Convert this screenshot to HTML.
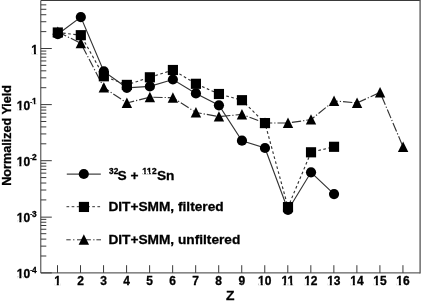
<!DOCTYPE html>
<html><head><meta charset="utf-8"><title>Normalized Yield vs Z</title>
<style>html,body{margin:0;padding:0;background:#fff}svg{display:block}</style></head>
<body>
<svg width="422" height="303" viewBox="0 0 422 303">
<rect width="422" height="303" fill="#fff"/>
<g stroke="#3a3a3a" stroke-width="1" fill="none">
<path d="M40.8,272.9 V0.5 H420.1"/>
<path d="M40.8,272.9 H420.1"/>
<path d="M420.1,0.0 V273.4" stroke="#555" stroke-width="1.3"/>
<line x1="57.50" y1="272.9" x2="57.50" y2="265.2"/>
<line x1="80.53" y1="272.9" x2="80.53" y2="265.2"/>
<line x1="103.56" y1="272.9" x2="103.56" y2="265.2"/>
<line x1="126.59" y1="272.9" x2="126.59" y2="265.2"/>
<line x1="149.62" y1="272.9" x2="149.62" y2="265.2"/>
<line x1="172.65" y1="272.9" x2="172.65" y2="265.2"/>
<line x1="195.68" y1="272.9" x2="195.68" y2="265.2"/>
<line x1="218.71" y1="272.9" x2="218.71" y2="265.2"/>
<line x1="241.74" y1="272.9" x2="241.74" y2="265.2"/>
<line x1="264.77" y1="272.9" x2="264.77" y2="265.2"/>
<line x1="287.80" y1="272.9" x2="287.80" y2="265.2"/>
<line x1="310.83" y1="272.9" x2="310.83" y2="265.2"/>
<line x1="333.86" y1="272.9" x2="333.86" y2="265.2"/>
<line x1="356.89" y1="272.9" x2="356.89" y2="265.2"/>
<line x1="379.92" y1="272.9" x2="379.92" y2="265.2"/>
<line x1="402.95" y1="272.9" x2="402.95" y2="265.2"/>
<line x1="40.8" y1="272.90" x2="51.8" y2="272.90"/>
<line x1="40.8" y1="256.01" x2="46.3" y2="256.01"/>
<line x1="40.8" y1="246.13" x2="46.3" y2="246.13"/>
<line x1="40.8" y1="239.12" x2="46.3" y2="239.12"/>
<line x1="40.8" y1="233.69" x2="46.3" y2="233.69"/>
<line x1="40.8" y1="229.25" x2="46.3" y2="229.25"/>
<line x1="40.8" y1="225.49" x2="46.3" y2="225.49"/>
<line x1="40.8" y1="222.24" x2="46.3" y2="222.24"/>
<line x1="40.8" y1="219.37" x2="46.3" y2="219.37"/>
<line x1="40.8" y1="217.15" x2="51.8" y2="217.15"/>
<line x1="40.8" y1="199.91" x2="46.3" y2="199.91"/>
<line x1="40.8" y1="190.03" x2="46.3" y2="190.03"/>
<line x1="40.8" y1="183.02" x2="46.3" y2="183.02"/>
<line x1="40.8" y1="177.59" x2="46.3" y2="177.59"/>
<line x1="40.8" y1="173.15" x2="46.3" y2="173.15"/>
<line x1="40.8" y1="169.39" x2="46.3" y2="169.39"/>
<line x1="40.8" y1="166.14" x2="46.3" y2="166.14"/>
<line x1="40.8" y1="163.27" x2="46.3" y2="163.27"/>
<line x1="40.8" y1="160.70" x2="51.8" y2="160.70"/>
<line x1="40.8" y1="143.81" x2="46.3" y2="143.81"/>
<line x1="40.8" y1="133.93" x2="46.3" y2="133.93"/>
<line x1="40.8" y1="126.92" x2="46.3" y2="126.92"/>
<line x1="40.8" y1="121.49" x2="46.3" y2="121.49"/>
<line x1="40.8" y1="117.05" x2="46.3" y2="117.05"/>
<line x1="40.8" y1="113.29" x2="46.3" y2="113.29"/>
<line x1="40.8" y1="110.04" x2="46.3" y2="110.04"/>
<line x1="40.8" y1="107.17" x2="46.3" y2="107.17"/>
<line x1="40.8" y1="104.60" x2="51.8" y2="104.60"/>
<line x1="40.8" y1="87.71" x2="46.3" y2="87.71"/>
<line x1="40.8" y1="77.83" x2="46.3" y2="77.83"/>
<line x1="40.8" y1="70.82" x2="46.3" y2="70.82"/>
<line x1="40.8" y1="65.39" x2="46.3" y2="65.39"/>
<line x1="40.8" y1="60.95" x2="46.3" y2="60.95"/>
<line x1="40.8" y1="57.19" x2="46.3" y2="57.19"/>
<line x1="40.8" y1="53.94" x2="46.3" y2="53.94"/>
<line x1="40.8" y1="51.07" x2="46.3" y2="51.07"/>
<line x1="40.8" y1="48.50" x2="51.8" y2="48.50"/>
<line x1="40.8" y1="31.61" x2="46.3" y2="31.61"/>
<line x1="40.8" y1="21.73" x2="46.3" y2="21.73"/>
<line x1="40.8" y1="14.72" x2="46.3" y2="14.72"/>
<line x1="40.8" y1="9.29" x2="46.3" y2="9.29"/>
<line x1="40.8" y1="4.85" x2="46.3" y2="4.85"/>
</g>
<polyline points="57.80,34.2 80.82,17.1 103.84,71.4 126.86,87.8 149.88,86.4 172.90,79.5 195.92,93.4 218.94,105.3 241.96,140.7 264.98,148.0 288.00,210.0 311.02,172.3 334.04,194.1" fill="none" stroke="#333" stroke-width="1.15"/>
<polyline points="57.80,32.5 80.82,35.2 103.84,76.3 126.86,84.9 149.88,77.3 172.90,70 195.92,83.8 218.94,94 241.96,100.2 264.98,123.1 288.00,207.1 311.02,152.3 334.04,146.8" fill="none" stroke="#333" stroke-width="1.15" stroke-dasharray="2.7,2.5"/>
<polyline points="57.80,32 80.82,43.2 103.84,87.6 126.86,103 149.88,97.2 172.90,97.7 195.92,112.5 218.94,116.6 241.96,114.4 264.98,123 288.00,123 311.02,119.6 334.04,100.9 357.06,102.9 380.08,92.4 403.10,147" fill="none" stroke="#333" stroke-width="1.15" stroke-dasharray="9.3,2,1.2,2"/>
<g fill="#000">
<polygon points="52.60,37.00 63.00,37.00 57.80,26.60"/>
<polygon points="75.62,48.20 86.02,48.20 80.82,37.80"/>
<polygon points="98.64,92.60 109.04,92.60 103.84,82.20"/>
<polygon points="121.66,108.00 132.06,108.00 126.86,97.60"/>
<polygon points="144.68,102.20 155.08,102.20 149.88,91.80"/>
<polygon points="167.70,102.70 178.10,102.70 172.90,92.30"/>
<polygon points="190.72,117.50 201.12,117.50 195.92,107.10"/>
<polygon points="213.74,121.60 224.14,121.60 218.94,111.20"/>
<polygon points="236.76,119.40 247.16,119.40 241.96,109.00"/>
<polygon points="259.78,128.00 270.18,128.00 264.98,117.60"/>
<polygon points="282.80,128.00 293.20,128.00 288.00,117.60"/>
<polygon points="305.82,124.60 316.22,124.60 311.02,114.20"/>
<polygon points="328.84,105.90 339.24,105.90 334.04,95.50"/>
<polygon points="351.86,107.90 362.26,107.90 357.06,97.50"/>
<polygon points="374.88,97.40 385.28,97.40 380.08,87.00"/>
<polygon points="397.90,152.00 408.30,152.00 403.10,141.60"/>
<rect x="52.72" y="27.42" width="10.16" height="10.16"/>
<rect x="75.74" y="30.12" width="10.16" height="10.16"/>
<rect x="98.76" y="71.22" width="10.16" height="10.16"/>
<rect x="121.78" y="79.82" width="10.16" height="10.16"/>
<rect x="144.80" y="72.22" width="10.16" height="10.16"/>
<rect x="167.82" y="64.92" width="10.16" height="10.16"/>
<rect x="190.84" y="78.72" width="10.16" height="10.16"/>
<rect x="213.86" y="88.92" width="10.16" height="10.16"/>
<rect x="236.88" y="95.12" width="10.16" height="10.16"/>
<rect x="259.90" y="118.02" width="10.16" height="10.16"/>
<rect x="282.92" y="202.02" width="10.16" height="10.16"/>
<rect x="305.94" y="147.22" width="10.16" height="10.16"/>
<rect x="328.96" y="141.72" width="10.16" height="10.16"/>
<circle cx="57.80" cy="34.20" r="5.1"/>
<circle cx="80.82" cy="17.10" r="5.1"/>
<circle cx="103.84" cy="71.40" r="5.1"/>
<circle cx="126.86" cy="87.80" r="5.1"/>
<circle cx="149.88" cy="86.40" r="5.1"/>
<circle cx="172.90" cy="79.50" r="5.1"/>
<circle cx="195.92" cy="93.40" r="5.1"/>
<circle cx="218.94" cy="105.30" r="5.1"/>
<circle cx="241.96" cy="140.70" r="5.1"/>
<circle cx="264.98" cy="148.00" r="5.1"/>
<circle cx="288.00" cy="210.00" r="5.1"/>
<circle cx="311.02" cy="172.30" r="5.1"/>
<circle cx="334.04" cy="194.10" r="5.1"/>
</g>
<line x1="66.8" y1="174.05" x2="100.8" y2="174.05" stroke="#444" stroke-width="1.15"/>
<line x1="66.5" y1="206.7" x2="100.5" y2="206.7" stroke="#333" stroke-dasharray="2.7,2.45"/>
<path d="M66.3,239.8 H70.7 M73.1,239.8 H74.4 M77,239.8 H90.9 M93.2,239.8 H94.5 M96.4,239.8 H101" stroke="#333"/>
<g fill="#000"><circle cx="83.80" cy="174.00" r="5.1"/><rect x="78.87" y="201.87" width="10.16" height="10.16"/><polygon points="78.65,244.75 89.05,244.75 83.85,234.35"/></g>
<g font-family="'Liberation Sans', Arial, sans-serif" font-weight="bold" fill="#000" stroke="#000" stroke-width="0.3">
<text x="109.1" y="173.6" font-size="8.3">32</text>
<text x="117.5" y="180" font-size="13.7">S +</text>
<text x="142.3" y="173.6" font-size="8.9">112</text>
<text x="156.9" y="180" font-size="13.7">Sn</text>
<text x="108.4" y="210.6" font-size="13.7">DIT+SMM, filtered</text>
<text x="108.4" y="243.8" font-size="13.7">DIT+SMM, unfiltered</text>
<text x="57.50" y="285" font-size="12" text-anchor="middle">1</text>
<text x="80.53" y="285" font-size="12" text-anchor="middle">2</text>
<text x="103.56" y="285" font-size="12" text-anchor="middle">3</text>
<text x="126.59" y="285" font-size="12" text-anchor="middle">4</text>
<text x="149.62" y="285" font-size="12" text-anchor="middle">5</text>
<text x="172.65" y="285" font-size="12" text-anchor="middle">6</text>
<text x="195.68" y="285" font-size="12" text-anchor="middle">7</text>
<text x="218.71" y="285" font-size="12" text-anchor="middle">8</text>
<text x="241.74" y="285" font-size="12" text-anchor="middle">9</text>
<text x="264.77" y="285" font-size="12" text-anchor="middle">10</text>
<text x="287.80" y="285" font-size="12" text-anchor="middle">11</text>
<text x="310.83" y="285" font-size="12" text-anchor="middle">12</text>
<text x="333.86" y="285" font-size="12" text-anchor="middle">13</text>
<text x="356.89" y="285" font-size="12" text-anchor="middle">14</text>
<text x="379.92" y="285" font-size="12" text-anchor="middle">15</text>
<text x="402.95" y="285" font-size="12" text-anchor="middle">16</text>
<text transform="translate(230.3,300) scale(1.1,1)" font-size="12.6" text-anchor="middle">Z</text>
<text x="38" y="53.8" font-size="12" text-anchor="end">1</text>
<text x="30.1" y="278.3" font-size="12" text-anchor="end">10</text>
<text x="30.3" y="271.8" font-size="6">-</text>
<text x="32.1" y="272.6" font-size="8.4">4</text>
<text x="30.1" y="222.2" font-size="12" text-anchor="end">10</text>
<text x="30.3" y="215.7" font-size="6">-</text>
<text x="32.1" y="216.5" font-size="8.4">3</text>
<text x="30.1" y="166.1" font-size="12" text-anchor="end">10</text>
<text x="30.3" y="159.6" font-size="6">-</text>
<text x="32.1" y="160.4" font-size="8.4">2</text>
<text x="30.1" y="110.0" font-size="12" text-anchor="end">10</text>
<text x="30.3" y="103.5" font-size="6">-</text>
<text x="32.1" y="104.3" font-size="8.4">1</text>
<text transform="translate(11.0,135.35) rotate(-90)" font-size="12.6" text-anchor="middle">Normalized Yield</text>
</g>
<g fill="#fff"><rect x="142.56" y="171.89" width="1.62" height="2.51"/><rect x="145.80" y="171.89" width="1.50" height="2.51"/><rect x="147.51" y="171.89" width="1.62" height="2.51"/><rect x="150.75" y="171.89" width="1.50" height="2.51"/><rect x="54.51" y="282.98" width="2.25" height="2.82"/><rect x="58.81" y="282.98" width="2.09" height="2.82"/><rect x="258.45" y="282.98" width="2.25" height="2.82"/><rect x="262.74" y="282.98" width="2.09" height="2.82"/><rect x="281.48" y="282.98" width="2.25" height="2.82"/><rect x="285.77" y="282.98" width="2.09" height="2.82"/><rect x="288.15" y="282.98" width="2.25" height="2.82"/><rect x="292.45" y="282.98" width="2.09" height="2.82"/><rect x="304.51" y="282.98" width="2.25" height="2.82"/><rect x="308.80" y="282.98" width="2.09" height="2.82"/><rect x="327.54" y="282.98" width="2.25" height="2.82"/><rect x="331.83" y="282.98" width="2.09" height="2.82"/><rect x="350.57" y="282.98" width="2.25" height="2.82"/><rect x="354.86" y="282.98" width="2.09" height="2.82"/><rect x="373.60" y="282.98" width="2.25" height="2.82"/><rect x="377.89" y="282.98" width="2.09" height="2.82"/><rect x="396.63" y="282.98" width="2.25" height="2.82"/><rect x="400.92" y="282.98" width="2.09" height="2.82"/><rect x="31.68" y="51.78" width="2.25" height="2.82"/><rect x="35.97" y="51.78" width="2.09" height="2.82"/><rect x="17.10" y="276.28" width="2.25" height="2.82"/><rect x="21.40" y="276.28" width="2.09" height="2.82"/><rect x="17.10" y="220.18" width="2.25" height="2.82"/><rect x="21.40" y="220.18" width="2.09" height="2.82"/><rect x="17.10" y="164.08" width="2.25" height="2.82"/><rect x="21.40" y="164.08" width="2.09" height="2.82"/><rect x="17.10" y="107.98" width="2.25" height="2.82"/><rect x="21.40" y="107.98" width="2.09" height="2.82"/><rect x="32.35" y="102.64" width="1.51" height="2.46"/><rect x="35.41" y="102.64" width="1.40" height="2.46"/></g>
</svg>
</body></html>
